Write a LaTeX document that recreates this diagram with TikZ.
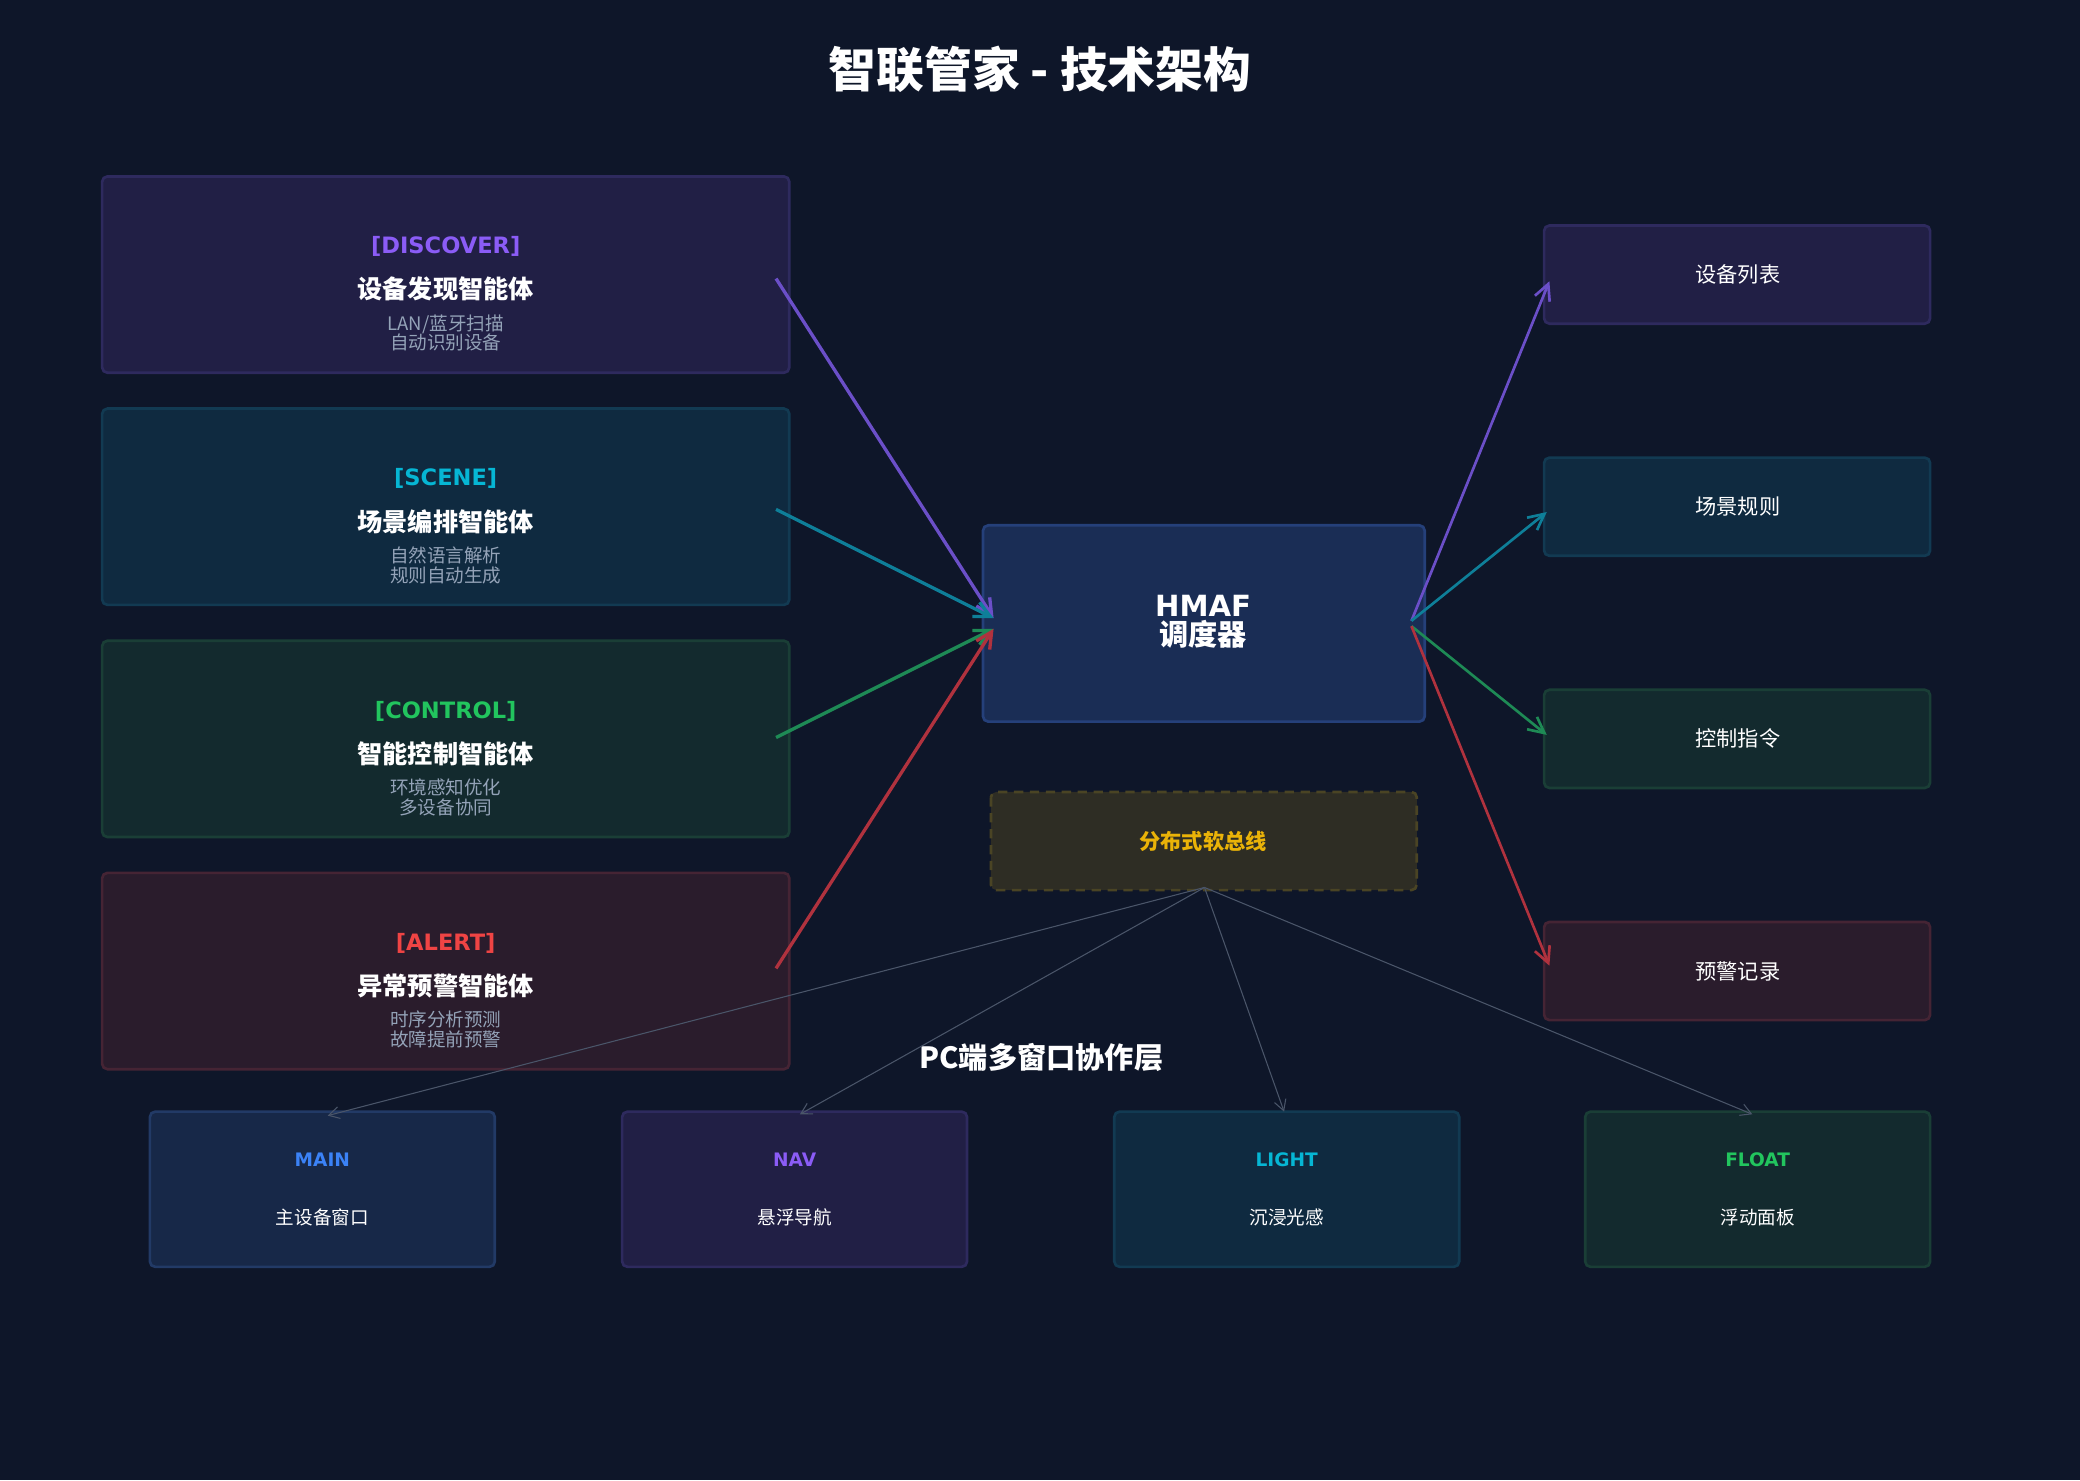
\documentclass[tikz,border=0pt]{standalone}
\usepackage{fontspec}
\setmainfont{DejaVu Sans}
\newfontfamily\cjk{Noto Sans CJK SC}
\usetikzlibrary{arrows.meta}
\definecolor{bg}{HTML}{0E1629}
\definecolor{cpur}{HTML}{8B5CF6}\definecolor{ccya}{HTML}{06B6D4}
\definecolor{cgrn}{HTML}{22C55E}\definecolor{cred}{HTML}{EF4444}
\definecolor{cblu}{HTML}{3B82F6}
\definecolor{fpur}{HTML}{211F45}\definecolor{dpur}{HTML}{2E2A5E}
\definecolor{fcya}{HTML}{0F2A40}\definecolor{dcya}{HTML}{123A52}
\definecolor{fgrn}{HTML}{132A2E}\definecolor{dgrn}{HTML}{1A3E36}
\definecolor{fred}{HTML}{2A1C2C}\definecolor{dred}{HTML}{452434}
\definecolor{fblu}{HTML}{172848}\definecolor{dblu}{HTML}{223A66}
\definecolor{fhm}{HTML}{1A2D55}\definecolor{dhm}{HTML}{25407A}
\definecolor{fbus}{HTML}{2E2D24}\definecolor{dbus}{HTML}{4A4424}
\definecolor{subt}{HTML}{94A3B8}
\definecolor{cbus}{HTML}{EAB308}
\definecolor{apur}{HTML}{6B4FC8}\definecolor{acya}{HTML}{0E7F99}
\definecolor{agrn}{HTML}{1E8A55}\definecolor{ared}{HTML}{B0323E}
\tikzset{box/.style={rounded corners=4pt,line width=2pt},
 arr/.style={-{Straight Barb[length=12pt,width=12pt]},line width=2.5pt},
 thin/.style={-{Straight Barb[length=8pt,width=9pt]},line width=0.8pt,draw=subt!45!bg}}
\begin{document}
\begin{tikzpicture}[x=1pt,y=-1pt]
\fill[bg] (0,0) rectangle (1568,1116);
\useasboundingbox (0,0) rectangle (1568,1116);
\node (title) at (784,52) {\cjk\bfseries\fontsize{36}{40}\selectfont\color{white}智联管家 - 技术架构};
% left boxes
\foreach \n/\y/\f/\d/\c/\tag/\name/\sa/\sb in {
 disc/133/fpur/dpur/cpur/DISCOVER/设备发现智能体/{LAN/蓝牙扫描}/自动识别设备,
 scene/308/fcya/dcya/ccya/SCENE/场景编排智能体/自然语言解析/规则自动生成,
 ctrl/483/fgrn/dgrn/cgrn/CONTROL/智能控制智能体/环境感知优化/多设备协同,
 alert/658/fred/dred/cred/ALERT/异常预警智能体/时序分析预测/故障提前预警}{
 \draw[box,fill=\f,draw=\d] (77,\y) rectangle (595,\y+148);
 \node[text=\c,font=\bfseries\fontsize{17}{20}\selectfont] (\n t) at (336,\y+53) {[\tag]};
 \node[text=white,font=\cjk\bfseries\fontsize{19}{22}\selectfont] (\n n) at (336,\y+85) {\name};
 \node[text=subt,font=\cjk\fontsize{14}{16}\selectfont,align=center] (\n s) at (336,\y+118) {\sa\\[-1pt]\sb};
}
% HMAF
\draw[box,fill=fhm,draw=dhm] (741,396) rectangle (1074,544);
\node[text=white,align=center,font=\bfseries\fontsize{22}{24}\selectfont] (hmaf) at (907,469) {HMAF\\[-2pt]{\cjk 调度器}};
% bus
\draw[fill=fbus,draw=dbus,line width=2pt,dash pattern=on 7pt off 5pt,rounded corners=4pt] (747,597) rectangle (1068,671);
\node[text=cbus,font=\cjk\bfseries\fontsize{16}{18}\selectfont] (bus) at (907,634) {分布式软总线};
% right boxes
\foreach \n/\y/\f/\d/\t in {r1/170/fpur/dpur/设备列表,r2/345/fcya/dcya/场景规则,r3/520/fgrn/dgrn/控制指令,r4/695/fred/dred/预警记录}{
 \draw[box,fill=\f,draw=\d] (1164,\y) rectangle (1455,\y+74);
 \node[text=white!90,font=\cjk\fontsize{16}{18}\selectfont] (\n) at (1310,\y+37) {\t};
}
\node[text=white,font=\cjk\bfseries\fontsize{22}{24}\selectfont] (pc) at (785,797) {PC端多窗口协作层};
% bottom boxes
\foreach \n/\x/\f/\d/\c/\tag/\t in {b1/113/fblu/dblu/cblu/MAIN/主设备窗口,b2/469/fpur/dpur/cpur/NAV/悬浮导航,b3/840/fcya/dcya/ccya/LIGHT/沉浸光感,b4/1195/fgrn/dgrn/cgrn/FLOAT/浮动面板}{
 \draw[box,fill=\f,draw=\d] (\x,838) rectangle (\x+260,955);
 \node[text=\c,font=\bfseries\fontsize{14}{16}\selectfont] (\n t) at (\x+130,874) {\tag};
 \node[text=white!90,font=\cjk\fontsize{14}{16}\selectfont] (\n) at (\x+130,918) {\t};
}
% arrows
\coordinate (l1) at (585,210);\coordinate (l2) at (585,384);\coordinate (l3) at (585,556);\coordinate (l4) at (585,730);
\coordinate (hi1) at (749,466);\coordinate (hi2) at (749,474);
\coordinate (ho1) at (1064,468);\coordinate (ho2) at (1064,472);
\draw[arr,draw=apur] (l1) -- (hi1);
\draw[arr,draw=acya] (l2) -- (hi1);
\draw[arr,draw=agrn] (l3) -- (hi2);
\draw[arr,draw=ared] (l4) -- (hi2);
\draw[arr,line width=2pt,draw=apur] (ho1) -- (1168,212);
\draw[arr,line width=2pt,draw=acya] (ho1) -- (1166,386);
\draw[arr,line width=2pt,draw=agrn] (ho2) -- (1166,554);
\draw[arr,line width=2pt,draw=ared] (ho2) -- (1168,728);
\coordinate (bo) at (908,669);
\draw[thin] (bo) -- (247,841);
\draw[thin] (bo) -- (603,840);
\draw[thin] (bo) -- (968,838);
\draw[thin] (bo) -- (1321,840);
\end{tikzpicture}
\end{document}
